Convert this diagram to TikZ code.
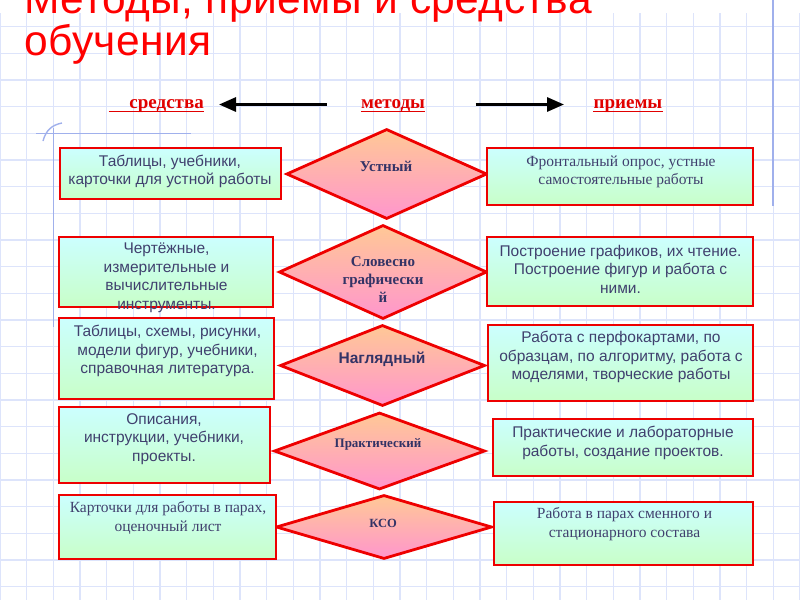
\documentclass[tikz,border=0pt]{standalone}
\usepackage{fontspec}
\setmainfont{Liberation Serif}
\setsansfont{Liberation Sans}
\usetikzlibrary{shapes.geometric,arrows.meta}
\definecolor{gridc}{RGB}{221,228,251}
\definecolor{marg}{RGB}{160,176,236}
\definecolor{boxtop}{RGB}{204,255,255}
\definecolor{boxbot}{RGB}{200,255,200}
\definecolor{dtop}{RGB}{255,200,150}
\definecolor{dbot}{RGB}{255,150,205}
\definecolor{bred}{RGB}{238,0,0}
\definecolor{txt}{RGB}{64,64,110}
\definecolor{dtxt}{RGB}{51,51,102}
\definecolor{hred}{RGB}{225,0,0}
\begin{document}
\begin{tikzpicture}[x=1pt,y=1pt,
  gridline/.style={draw=gridc, line width=1.4pt},
  margin/.style={draw=marg, line width=1.4pt},
  box/.style={draw=bred, line width=2.6pt, top color=boxtop, bottom color=boxbot, inner sep=0pt, rectangle},
  dia/.style={draw=bred, line width=2.8pt, top color=dtop, bottom color=dbot, inner sep=0pt, diamond},
  st/.style={font=\sffamily\fontsize{15.5}{18.5}\selectfont, text=txt, align=center, inner sep=0pt},
  rt/.style={font=\fontsize{15.5}{18.5}\selectfont, text=txt, align=center, inner sep=0pt},
  dt/.style={font=\bfseries\fontsize{15}{18}\selectfont, text=dtxt, align=center, inner sep=0pt},
  hdr/.style={font=\bfseries\fontsize{19}{22}\selectfont, text=hred, inner sep=0pt},
  title/.style={font=\sffamily\fontsize{42.5}{44}\selectfont\addfontfeature{LetterSpace=1}, text=red, inner sep=0pt},
  harr/.style={draw=black, line width=3pt, -{Triangle[length=17pt,width=14pt]}}
]
\useasboundingbox (0,0) rectangle (800,-600);
\fill[white] (0,0) rectangle (800,-600);
% grid
\foreach \i in {0,...,30} \draw[gridline] (\i*26.667,-13) -- (\i*26.667,-600);
\foreach \j in {1,...,22} \draw[gridline] (0,-\j*26.667) -- (800,-\j*26.667);
% margins
\draw[margin] (53.3,-128) -- (53.3,-327);
\draw[margin] (36,-133.3) -- (191,-133.3);
\draw[margin] (43,-141) .. controls (46,-130) and (52,-125) .. (62,-123);
\draw[margin] (773,0) -- (773,-206);
% title
\node[title, anchor=base west] (t1) at (24,-13) {Методы, приемы и средства};
\node[title, anchor=base west] (t2) at (24,-55) {обучения};
% header
\node[hdr, anchor=base east] (sr) at (204,-108) {средства};
\draw[hred, line width=1.2pt] ([xshift=-20.5pt,yshift=-3.8pt]sr.base west) -- ([yshift=-3.8pt]sr.base east);
\node[hdr, anchor=base] (met) at (393,-108) {методы};
\draw[hred, line width=1.2pt] ([yshift=-3.8pt]met.base west) -- ([yshift=-3.8pt]met.base east);
\node[hdr, anchor=base] (pri) at (628,-108) {приемы};
\draw[hred, line width=1.2pt] ([yshift=-3.8pt]pri.base west) -- ([yshift=-3.8pt]pri.base east);
\coordinate (ls) at (326.5,-104.5);
\coordinate (le) at (219,-104.5);
\coordinate (rs) at (475.5,-104.5);
\coordinate (re) at (564,-104.5);
\draw[harr] (ls) -- (le);
\draw[harr] (rs) -- (re);
% diamonds
\node[dia, minimum width=200.7pt, minimum height=90pt] (d1) at (386.7,-174) {};
\node[dia, minimum width=208pt, minimum height=94pt] (d2) at (383,-272) {};
\node[dia, minimum width=205pt, minimum height=81pt] (d3) at (382.5,-365.5) {};
\node[dia, minimum width=211pt, minimum height=77pt] (d4) at (379.5,-451) {};
\node[dia, minimum width=216pt, minimum height=64pt] (d5) at (384,-527) {};
\node[dt] (td1) at (386,-166) {Устный};
\node[dt] (td2) at (383,-280) {Словесно\\графически\\й};
\node[dt, font=\sffamily\bfseries\fontsize{15.5}{18}\selectfont] (td3) at (382,-359) {Наглядный};
\node[dt, font=\bfseries\fontsize{13}{16}\selectfont] (td4) at (378,-444) {Практический};
\node[dt, font=\bfseries\fontsize{12.5}{15}\selectfont] (td5) at (383,-523) {КСО};
% left boxes
\node[box, minimum width=221pt, minimum height=51pt] (L1) at (170.5,-173.5) {};
\node[box, minimum width=214pt, minimum height=70pt] (L2) at (166,-272) {};
\node[box, minimum width=215pt, minimum height=81pt] (L3) at (166.5,-358.5) {};
\node[box, minimum width=211pt, minimum height=76pt] (L4) at (164.5,-445) {};
\node[box, minimum width=217pt, minimum height=64pt] (L5) at (167.5,-527) {};
\node[st] (tL1) at (170,-171.5) {Таблицы, учебники,\\карточки для устной работы};
\node[st] (tL2) at (166.5,-278) {Чертёжные,\\измерительные и\\вычислительные\\инструменты.};
\node[st] (tL3) at (167.5,-351) {Таблицы, схемы, рисунки,\\модели фигур, учебники,\\справочная литература.};
\node[st] (tL4) at (164,-439) {Описания,\\инструкции, учебники,\\проекты.};
\node[rt] (tL5) at (168,-518) {Карточки для работы в парах,\\оценочный лист};
% right boxes
\node[box, minimum width=266pt, minimum height=57pt] (R1) at (620,-176.5) {};
\node[box, minimum width=266pt, minimum height=69pt] (R2) at (620,-271.5) {};
\node[box, minimum width=265pt, minimum height=76pt] (R3) at (620.5,-363) {};
\node[box, minimum width=260pt, minimum height=57pt] (R4) at (623,-447.5) {};
\node[box, minimum width=259pt, minimum height=63pt] (R5) at (623.5,-533.5) {};
\node[rt] (tR1) at (621,-171.7) {Фронтальный опрос, устные\\самостоятельные работы};
\node[st] (tR2) at (620.5,-269) {Построение графиков, их чтение.\\Построение фигур и работа с\\ними.};
\node[st] (tR3) at (621,-357) {Работа с перфокартами, по\\образцам, по алгоритму, работа с\\моделями, творческие работы};
\node[st] (tR4) at (623,-442.7) {Практические и лабораторные\\работы, создание проектов.};
\node[rt] (tR5) at (624.5,-524) {Работа в парах сменного и\\стационарного состава};
\end{tikzpicture}
\end{document}
